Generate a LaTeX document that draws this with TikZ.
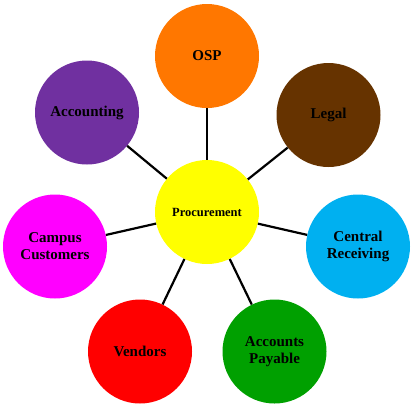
\documentclass[tikz,border=0pt]{standalone}
\usepackage{fontspec}
\setmainfont{Liberation Serif}
\begin{document}
\begin{tikzpicture}[x=1pt,y=-1pt,
  hub/.style={circle,minimum size=104pt,inner sep=0pt,draw=none,align=center,
    font=\fontsize{15pt}{17pt}\selectfont\bfseries},
  link/.style={line width=2.2pt,black}]
\useasboundingbox (0,0) rectangle (414,408);
\definecolor{cosp}{HTML}{FF7700}
\definecolor{clegal}{HTML}{663300}
\definecolor{ccr}{HTML}{00B0F0}
\definecolor{cap}{HTML}{00A000}
\definecolor{cven}{HTML}{FF0000}
\definecolor{ccamp}{HTML}{FF00FF}
\definecolor{cacc}{HTML}{7030A0}
\definecolor{cproc}{HTML}{FFFF00}
\node[hub,fill=cproc,font=\fontsize{12.5pt}{14pt}\selectfont\bfseries] (p) at (207,212) {Procurement};
\node[hub,fill=cosp] (osp) at (207,56) {OSP};
\node[hub,fill=clegal] (legal) at (328.5,115) {Legal};
\node[hub,fill=ccr] (cr) at (358,246.5) {Central\\Receiving};
\node[hub,fill=cap] (ap) at (274.5,351.5) {Accounts\\Payable};
\node[hub,fill=cven] (ven) at (140,351.5) {Vendors};
\node[hub,fill=ccamp] (camp) at (55,246.5) {Campus\\Customers};
\node[hub,fill=cacc] (acc) at (87,112.5) {Accounting};
\foreach \t in {osp,legal,cr,ap,ven,camp,acc}
  \draw[link] (p) -- (\t);
\end{tikzpicture}
\end{document}
